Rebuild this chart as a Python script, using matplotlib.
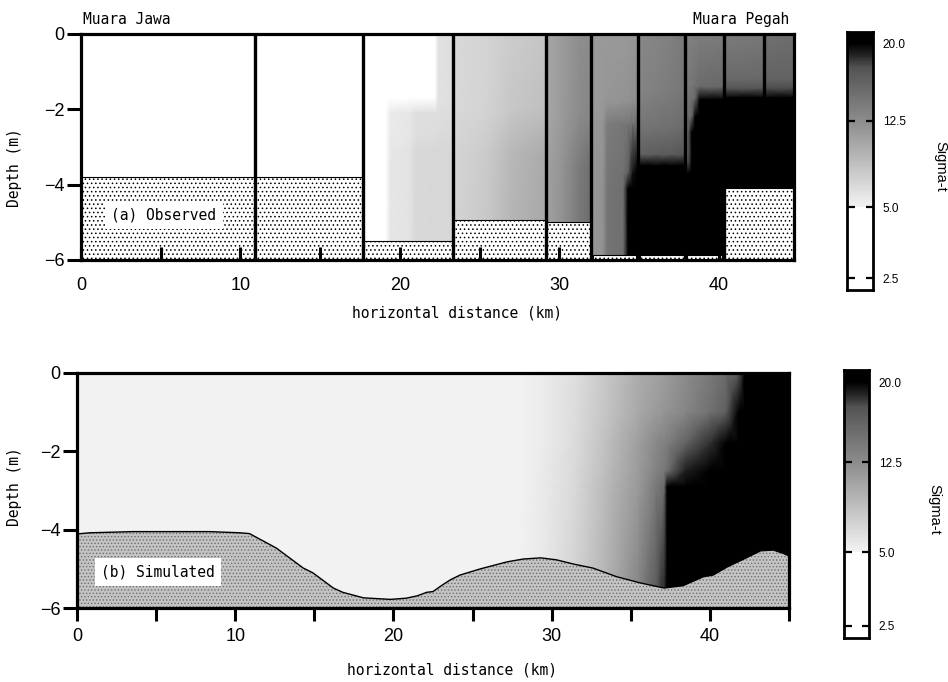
import numpy as np
import matplotlib
matplotlib.use("Agg")
import matplotlib.pyplot as plt
from matplotlib.colors import LinearSegmentedColormap, FuncNorm

MONO = "DejaVu Sans Mono"
SANS = "Liberation Sans"
plt.rcParams["hatch.linewidth"] = 0.6

# ---------------- sigma-t grey scale ----------------
cmap_levels = [2.5, 5.0, 5.01, 12.5, 16.0, 17.6, 18.9, 20.0]
cmap_greys = [1.0, 1.0, 0.955, 0.55, 0.40, 0.33, 0.13, 0.0]
cbar_ticks = [2.5, 5.0, 12.5, 20.0]
cbar_ticklabels = ["2.5", "5.0", "12.5", "20.0"]
# stretched colour-bar axis: value -> fraction of bar height
scale_vals = [1.8, 2.5, 5.0, 12.5, 20.0, 20.7]
scale_frac = [0.0, 0.045, 0.32, 0.655, 0.955, 1.0]

# ---------------- (a) observed stations ----------------
station_x = [10.9, 17.7, 23.3, 29.15, 32.0, 34.9, 37.9, 40.3, 42.8]
station_line_bottom = [-6.0, -6.0, -6.0, -6.0, -6.0, -6.0, -6.0, -6.0, -4.1]

sed_left = [0.0, 10.9, 17.7, 23.3, 29.15, 32.1, 35.0, 38.0, 40.3]
sed_right = [10.9, 17.7, 23.3, 29.15, 32.0, 34.8, 37.8, 40.2, 44.7]
sed_top = [-3.8, -3.8, -5.5, -4.95, -5.0, -5.87, -5.87, -5.87, -4.1]

col1_x = [0.0, 10.9]
col1_z = [0.0, -6.0]
col1_s = [[4.0, 4.0], [4.0, 4.0]]

col2_x = [10.9, 17.7]
col2_z = [0.0, -6.0]
col2_s = [[4.0, 4.0], [4.0, 4.0]]

col3_x = [17.7, 19.1, 19.4, 20.6, 21.0, 22.2, 22.4, 23.3]
col3_z = [0.0, -1.7, -2.1, -2.7, -3.1, -6.0]
col3_s = [[4.0, 4.0, 4.0, 4.0, 4.0, 4.0, 6.3, 6.5],
          [4.0, 4.0, 4.0, 4.0, 4.0, 4.0, 6.3, 6.5],
          [4.0, 4.0, 5.7, 6.0, 6.5, 6.6, 6.6, 6.7],
          [4.0, 4.0, 5.7, 6.0, 6.6, 6.7, 6.8, 6.9],
          [4.0, 4.0, 5.9, 6.2, 7.0, 7.1, 7.1, 7.1],
          [4.0, 4.0, 5.9, 6.2, 7.0, 7.1, 7.1, 7.1]]

col4_x = [23.3, 25.5, 27.0, 29.15]
col4_z = [0.0, -2.0, -3.2, -6.0]
col4_s = [[6.9, 7.3, 7.9, 8.4],
          [6.9, 7.4, 8.2, 8.8],
          [7.2, 8.0, 9.3, 10.3],
          [7.3, 8.2, 9.6, 10.6]]

col5_x = [29.15, 30.2, 31.2, 32.0]
col5_z = [0.0, -2.2, -3.5, -6.0]
col5_s = [[10.6, 11.4, 12.3, 12.6],
          [10.6, 11.5, 12.6, 13.2],
          [10.9, 12.0, 14.0, 15.3],
          [11.0, 12.2, 14.2, 15.5]]

col6_x = [32.0, 32.7, 33.0, 34.0, 34.3, 34.6, 34.9]
col6_z = [0.0, -1.8, -2.4, -3.7, -4.1, -6.0]
col6_s = [[11.6, 11.6, 11.6, 11.6, 11.6, 11.7, 11.8],
          [11.6, 11.6, 11.8, 12.0, 12.1, 12.3, 12.5],
          [11.7, 11.8, 14.0, 14.4, 14.6, 15.0, 15.5],
          [11.8, 12.0, 14.5, 15.0, 16.5, 19.5, 21.0],
          [11.8, 12.0, 14.6, 15.2, 21.0, 21.0, 21.0],
          [11.8, 12.0, 14.6, 15.2, 21.0, 21.0, 21.0]]

col7_x = [34.9, 36.0, 37.0, 37.9]
col7_z = [0.0, -1.5, -2.5, -3.2, -3.5, -6.0]
col7_s = [[12.9, 13.2, 13.6, 14.2],
          [13.2, 13.6, 14.0, 14.6],
          [14.6, 14.9, 15.2, 15.6],
          [16.5, 16.8, 17.0, 17.5],
          [21.0, 21.0, 21.0, 21.0],
          [21.0, 21.0, 21.0, 21.0]]

col8_x = [37.9, 38.05, 38.3, 38.5, 38.8, 40.3]
col8_z = [0.0, -1.4, -1.75, -2.2, -2.6, -3.4, -3.7, -6.0]
col8_s = [[13.3, 13.4, 13.5, 13.6, 13.8, 14.0],
          [14.2, 14.4, 14.6, 15.0, 15.5, 15.8],
          [14.6, 14.8, 15.2, 16.0, 21.0, 21.0],
          [15.0, 15.3, 16.0, 21.0, 21.0, 21.0],
          [15.4, 15.8, 21.0, 21.0, 21.0, 21.0],
          [16.0, 17.0, 21.0, 21.0, 21.0, 21.0],
          [21.0, 21.0, 21.0, 21.0, 21.0, 21.0],
          [21.0, 21.0, 21.0, 21.0, 21.0, 21.0]]

col9_x = [40.3, 42.8]
col9_z = [0.0, -1.2, -1.45, -1.7, -6.0]
col9_s = [[14.0, 14.3], [15.6, 15.8], [17.5, 17.6], [21.0, 21.0], [21.0, 21.0]]

col10_x = [42.8, 44.7]
col10_z = [0.0, -1.2, -1.45, -1.7, -6.0]
col10_s = [[15.0, 15.3], [16.2, 16.3], [17.8, 17.8], [21.0, 21.0], [21.0, 21.0]]

# ---------------- (b) simulated section ----------------
sim_x = [0.0, 28.0, 29.5, 31.5, 33.5, 35.5, 36.6, 37.1, 37.3, 38.5, 40.0, 41.0, 41.8, 42.2, 45.0]
sim_z = [0.0, -1.0, -1.8, -2.5, -2.9, -3.1, -6.0]
sim_s = [[5.1, 5.1, 5.6, 6.6, 8.3, 10.2, 10.9, 11.3, 11.5, 12.6, 14.2, 15.5, 17.2, 21.0, 21.0],
         [5.1, 5.1, 5.6, 6.7, 8.5, 10.5, 11.4, 11.8, 12.0, 13.2, 15.0, 16.5, 20.0, 21.0, 21.0],
         [5.1, 5.1, 5.6, 6.8, 8.8, 11.2, 12.9, 13.5, 13.8, 16.3, 18.5, 21.0, 21.0, 21.0, 21.0],
         [5.1, 5.1, 5.7, 6.9, 9.0, 11.4, 13.4, 14.2, 15.0, 19.0, 21.0, 21.0, 21.0, 21.0, 21.0],
         [5.1, 5.1, 5.7, 7.0, 9.3, 11.6, 14.2, 15.5, 21.0, 21.0, 21.0, 21.0, 21.0, 21.0, 21.0],
         [5.1, 5.1, 5.7, 7.0, 9.3, 11.7, 14.4, 15.7, 21.0, 21.0, 21.0, 21.0, 21.0, 21.0, 21.0],
         [5.1, 5.1, 5.9, 7.5, 9.8, 13.5, 17.5, 19.0, 21.0, 21.0, 21.0, 21.0, 21.0, 21.0, 21.0]]

bathy_x = [0.0, 0.8, 3.5, 8.4, 10.3, 10.9, 12.6, 14.3, 14.9, 16.2, 16.8, 18.1, 19.8, 20.8,
           21.5, 22.1, 22.5, 23.1, 23.6, 24.2, 25.5, 27.2, 28.2, 29.3, 30.3, 31.4, 32.6,
           34.1, 35.6, 37.1, 38.3, 39.6, 40.2, 41.1, 42.3, 43.2, 44.0, 44.6, 45.0]
bathy_z = [-4.11, -4.08, -4.05, -4.05, -4.08, -4.10, -4.47, -4.98, -5.10, -5.49, -5.60, -5.74,
           -5.78, -5.75, -5.69, -5.60, -5.58, -5.41, -5.28, -5.16, -5.00, -4.82, -4.75, -4.72,
           -4.77, -4.88, -4.98, -5.20, -5.36, -5.49, -5.43, -5.20, -5.16, -4.95, -4.72, -4.54,
           -4.52, -4.60, -4.67]

x_major = [0, 10, 20, 30, 40]
y_major = [0, -2, -4, -6]
depth_floor = -6.0

# ---------------- colour mapping ----------------
def to_frac(v):
    return np.interp(v, scale_vals, scale_frac)

def from_frac(p):
    return np.interp(p, scale_frac, scale_vals)

norm = FuncNorm((to_frac, from_frac), vmin=scale_vals[0], vmax=scale_vals[-1])
node_pos = [0.0] + list(to_frac(cmap_levels)) + [1.0]
node_grey = [1.0] + cmap_greys + [0.0]
cmap = LinearSegmentedColormap.from_list(
    "sigma_t", [(p, (g, g, g)) for p, g in zip(node_pos, node_grey)], N=512)

fig = plt.figure(figsize=(9.48, 6.82), dpi=100)
ax_obs = fig.add_axes([0.0854, 0.6188, 0.7521, 0.3314])
ax_sim = fig.add_axes([0.0812, 0.1085, 0.7511, 0.3446])
cax_obs = fig.add_axes([0.8935, 0.5748, 0.0274, 0.3783])
cax_sim = fig.add_axes([0.8903, 0.0645, 0.0264, 0.3930])


def style_axes(ax, xmax, tick_dir, xpad):
    ax.set_xlim(0, xmax)
    ax.set_ylim(depth_floor, 0)
    ax.set_xticks(x_major)
    ax.set_xticks([v + 5 for v in x_major if v + 5 <= xmax], minor=True)
    ax.set_yticks(y_major)
    for sp in ax.spines.values():
        sp.set_linewidth(2.3)
        sp.set_zorder(4)
    ax.tick_params(axis="x", which="both", direction=tick_dir, length=9.5, width=2.2,
                   pad=xpad, labelsize=13)
    ax.tick_params(axis="y", which="both", direction="out", length=10, width=2.2,
                   pad=2, labelsize=13)
    for lab in ax.get_xticklabels() + ax.get_yticklabels():
        lab.set_family(SANS)
    ax.set_xlabel("horizontal distance (km)", family=MONO, size=10.5)
    ax.set_ylabel("Depth (m)", family=MONO, size=10.5)


def draw_scale(cax):
    """Vertical sigma-t key on a stretched axis, dashes on both edges."""
    frac = np.linspace(0.0, 1.0, 700)
    cax.imshow(from_frac(frac)[:, None], origin="lower", extent=(0, 1, 0, 1),
               aspect="auto", cmap=cmap, norm=norm, interpolation="nearest", zorder=0)
    cax.set_xlim(0, 1)
    cax.set_ylim(0, 1)
    cax.set_xticks([])
    tick_frac = to_frac(cbar_ticks)
    cax.set_yticks(tick_frac, cbar_ticklabels)
    cax.tick_params(axis="y", direction="in", length=5, width=1.6, left=False, right=True,
                    labelleft=False, labelright=True, labelsize=8.5, pad=7)
    # dashes on the left edge, mirroring the right-hand ticks
    for f in tick_frac:
        cax.plot([0.0, 0.3], [f, f], color="black", linewidth=1.6,
                 solid_capstyle="butt", zorder=5)
    for lab in cax.get_yticklabels():
        lab.set_family(SANS)
    for sp in cax.spines.values():
        sp.set_linewidth(2.0)
    cax.yaxis.set_label_position("right")
    cax.set_ylabel("Sigma-t", family=SANS, size=10.5, rotation=270)
    cax.yaxis.set_label_coords(3.6, 0.48)
    cax.yaxis.label.set_va("center")
    cax.yaxis.label.set_ha("center")


# ---- (a) observed ----
obs_columns = [(col1_x, col1_z, col1_s), (col2_x, col2_z, col2_s), (col3_x, col3_z, col3_s),
               (col4_x, col4_z, col4_s), (col5_x, col5_z, col5_s), (col6_x, col6_z, col6_s),
               (col7_x, col7_z, col7_s), (col8_x, col8_z, col8_s), (col9_x, col9_z, col9_s),
               (col10_x, col10_z, col10_s)]
for xs, zs, ss in obs_columns:
    ax_obs.pcolormesh(xs, zs, np.array(ss), shading="gouraud", cmap=cmap, norm=norm, zorder=1)

ax_obs.bar(sed_left, np.array(sed_top) - depth_floor,
           width=np.array(sed_right) - np.array(sed_left), bottom=depth_floor,
           align="edge", facecolor="white", edgecolor="black", linewidth=0.8,
           hatch="....", zorder=1.5)
ax_obs.vlines(station_x, station_line_bottom, 0, colors="black", linewidth=2.4, zorder=2)

style_axes(ax_obs, 44.7, "in", 12)
ax_obs.xaxis.set_label_coords(0.527, -0.235)
ax_obs.xaxis.label.set_va("center")
ax_obs.yaxis.set_label_coords(-0.0926, 0.41)
ax_obs.yaxis.label.set_va("center")
ax_obs.text(5.2, -4.8, "(a) Observed", family=MONO, size=10.5, ha="center", va="center",
            bbox=dict(boxstyle="square,pad=0.45", fc="white", ec="none"), zorder=3)
ax_obs.text(0.003, 1.066, "Muara Jawa", transform=ax_obs.transAxes, ha="left",
            va="center", family=MONO, size=10.5)
ax_obs.text(0.994, 1.066, "Muara Pegah", transform=ax_obs.transAxes, ha="right",
            va="center", family=MONO, size=10.5)

# ---- (b) simulated ----
ax_sim.pcolormesh(sim_x, sim_z, np.array(sim_s), shading="gouraud", cmap=cmap, norm=norm,
                  zorder=1)
ax_sim.fill_between(bathy_x, bathy_z, depth_floor, facecolor="#c4c4c4", edgecolor="#6e6e6e",
                    linewidth=0, hatch=".....", zorder=1.5)
ax_sim.plot(bathy_x, bathy_z, color="black", linewidth=1.0, zorder=1.6)

style_axes(ax_sim, 45.0, "out", 5)
ax_sim.xaxis.set_label_coords(0.527, -0.264)
ax_sim.xaxis.label.set_va("center")
ax_sim.yaxis.set_label_coords(-0.0871, 0.515)
ax_sim.yaxis.label.set_va("center")
ax_sim.text(5.12, -5.08, "(b) Simulated", family=MONO, size=10.5, ha="center", va="center",
            bbox=dict(boxstyle="square,pad=0.45", fc="white", ec="none"), zorder=3)

# ---- colour keys ----
draw_scale(cax_obs)
draw_scale(cax_sim)

fig.savefig("out.png", dpi=100)
